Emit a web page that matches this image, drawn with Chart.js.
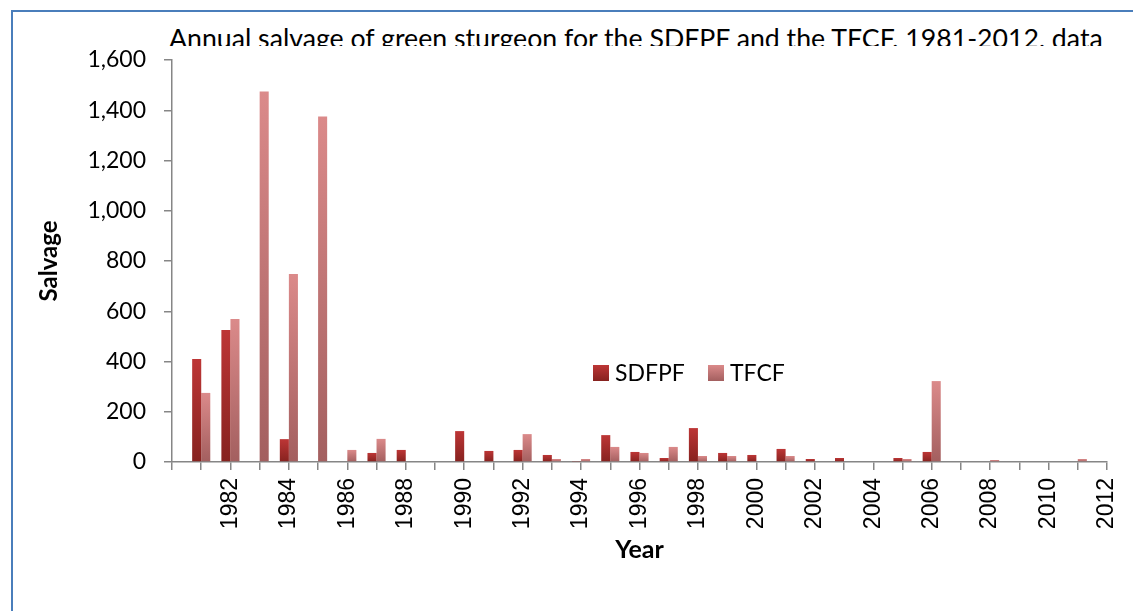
<!DOCTYPE html>
<html>
<head>
<meta charset="utf-8">
<script src="https://cdn.jsdelivr.net/npm/chart.js@4.4.0/dist/chart.umd.min.js"></script>
<style>
  html, body { margin: 0; padding: 0; background: #fff; }
  #wrap { position: relative; width: 1133px; height: 611px; overflow: hidden; }
  #frame { position: absolute; left: 11px; top: 10px; width: 1200px; height: 700px;
           border-top: 2px solid #4a7ebb; border-left: 2px solid #4a7ebb; }
  #title { position: absolute; left: 169px; top: 20px; height: 26px; overflow: hidden;
           white-space: nowrap; font-family: Lato, sans-serif; font-size: 26.7px; line-height: 36px; color: #000; }
  canvas { position: absolute; left: 0; top: 0; }
</style>
</head>
<body>
<div id="wrap">
  <div id="frame"></div>
  <div id="title">Annual salvage of green sturgeon for the SDFPF and the TFCF, 1981-2012, data</div>
  <canvas id="barChart" width="1133" height="611"></canvas>
</div>
<script>
// years on the axis (1980 is just the axis start)
var years = ['1980', '1981', '1982', '1983', '1984', '1985', '1986', '1987', '1988', '1989',
    '1990', '1991', '1992', '1993', '1994', '1995', '1996', '1997', '1998', '1999',
    '2000', '2001', '2002', '2003', '2004', '2005', '2006', '2007', '2008', '2009',
    '2010', '2011', '2012'];
var sdfpf = [null, 410, 525, 0, 91, 0, 0, 36, 48, 0,
    123, 44, 48, 28, 4, 107, 40, 16, 135, 36,
    28, 52, 12, 16, 0, 16, 40, 0, 0, 0,
    0, 0, 0];
var tfcf = [null, 275, 569, 1475, 748, 1375, 48, 92, 0, 0,
    0, 0, 111, 12, 12, 60, 36, 60, 24, 24,
    0, 24, 0, 0, 0, 12, 322, 0, 8, 0,
    0, 12, 0];
var yTicks = [0, 200, 400, 600, 800, 1000, 1200, 1400, 1600];

var sdfpfColors = ['#bd3636', '#86221f'];
var tfcfColors = ['#db8a8a', '#a35f5f'];

function barGradient(colors) {
    return function (context) {
        var chart = context.chart;
        if (!chart.chartArea || context.type !== 'data' || !context.raw) return colors[0];
        var yScale = chart.scales.y;
        var yTop = yScale.getPixelForValue(context.raw);
        var yBottom = yScale.getPixelForValue(0);
        var g = chart.ctx.createLinearGradient(0, yTop, 0, yBottom);
        g.addColorStop(0, colors[0]);
        g.addColorStop(1, colors[1]);
        return g;
    };
}

// legend sits inside the plot area, drawn by hand
var legendInside = {
    id: 'legendInside',
    afterDraw: function (chart) {
        var ctx = chart.ctx;
        var items = [
            { label: 'SDFPF', colors: sdfpfColors, x: 593 },
            { label: 'TFCF', colors: tfcfColors, x: 708 }
        ];
        ctx.save();
        ctx.font = '23px Lato';
        ctx.textBaseline = 'middle';
        ctx.fillStyle = '#000';
        items.forEach(function (it) {
            var g = ctx.createLinearGradient(0, 365, 0, 381);
            g.addColorStop(0, it.colors[0]);
            g.addColorStop(1, it.colors[1]);
            ctx.fillStyle = g;
            ctx.fillRect(it.x, 365, 16, 16);
            ctx.fillStyle = '#000';
            ctx.fillText(it.label, it.x + 22, 374);
        });
        ctx.restore();
    }
};

var ctx = document.getElementById('barChart');
var chart = new Chart(ctx, {
    type: 'bar',
    data: {
        labels: years,
        datasets: [{
            label: 'SDFPF',
            backgroundColor: barGradient(sdfpfColors),
            data: sdfpf
        }, {
            label: 'TFCF',
            backgroundColor: barGradient(tfcfColors),
            data: tfcf
        }]
    },
    options: {
        responsive: false,
        animation: false,
        categoryPercentage: 0.62,
        barPercentage: 1.0,
        layout: { padding: { top: 60, right: 26, left: 0, bottom: 0 } },
        plugins: {
            legend: { display: false },
            tooltip: { enabled: false }
        },
        scales: {
            x: {
                offset: false,
                grid: { offset: false, drawOnChartArea: false, drawTicks: true, tickLength: 8, color: '#868686', lineWidth: 1.5 },
                border: { color: '#868686', width: 1.5 },
                ticks: {
                    autoSkip: false,
                    minRotation: 90,
                    maxRotation: 90,
                    padding: 8,
                    color: '#000',
                    font: { family: 'Liberation Sans', size: 23 },
                    callback: function (val) {
                        var y = this.getLabelForValue(val);
                        return (parseInt(y, 10) % 2 === 0 && y !== '1980') ? y : '';
                    }
                },
                title: {
                    display: true,
                    text: 'Year',
                    color: '#000',
                    font: { family: 'Lato', size: 25, weight: 'bold' },
                    padding: { top: 0, bottom: 46 }
                },
                afterFit: function (scale) {
                    scale.height = 149;
                    scale.paddingLeft = 0;
                    scale.paddingRight = 0;
                }
            },
            y: {
                min: 0,
                max: 1600,
                afterBuildTicks: function (scale) {
                    scale.ticks = yTicks.map(function (v) { return { value: v }; });
                },
                grid: { drawOnChartArea: false, drawTicks: true, tickLength: 8, color: '#868686', lineWidth: 1.5 },
                border: { color: '#868686', width: 1.5 },
                ticks: {
                    padding: 18,
                    color: '#000',
                    font: { family: 'Lato', size: 23 },
                    callback: function (v) { return v.toLocaleString('en-US'); }
                },
                title: {
                    display: true,
                    text: 'Salvage',
                    color: '#000',
                    font: { family: 'Lato', size: 24, weight: 'bold' },
                    padding: { top: 35, bottom: 0 }
                },
                afterFit: function (scale) { scale.width = 172; }
            }
        }
    },
    plugins: [legendInside]
});
</script>
</body>
</html>
